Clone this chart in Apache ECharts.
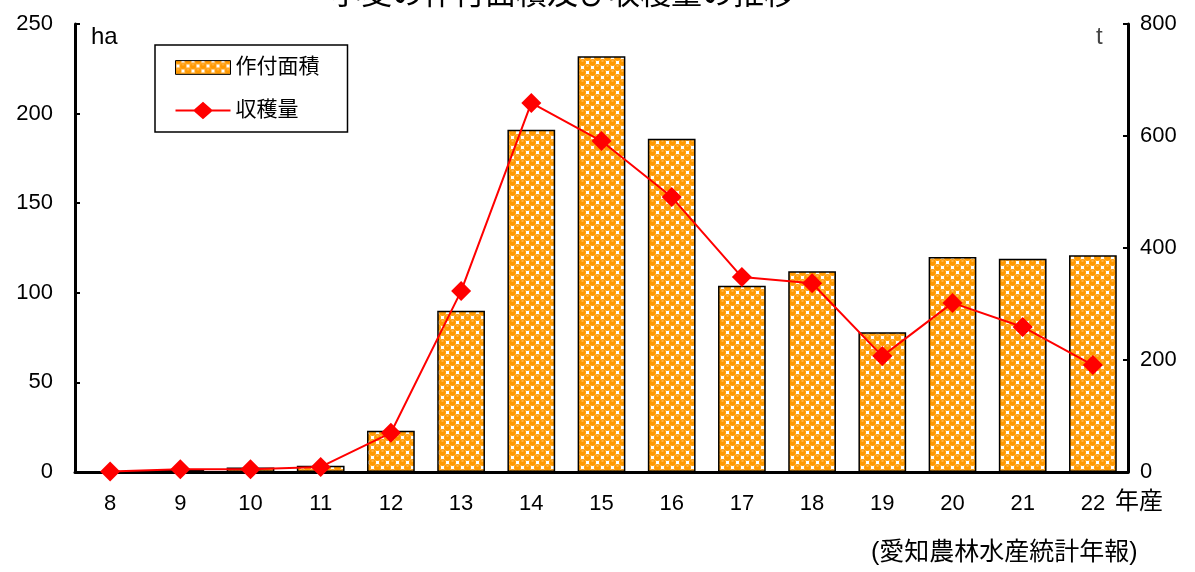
<!DOCTYPE html>
<html>
<head>
<meta charset="utf-8">
<script src="https://cdn.jsdelivr.net/npm/echarts@6/dist/echarts.min.js"></script>
<style>
  html, body { margin: 0; padding: 0; background: #fff; }
  #chart { width: 1195px; height: 572px; }
</style>
</head>
<body>
<div id="chart"></div>
<script>
// 年産 (平成) と作付面積・収穫量
const years = ['8', '9', '10', '11', '12', '13', '14', '15', '16', '17', '18', '19', '20', '21', '22'];
const areaHa = [0.4, 1.5, 2.5, 3.5, 23, 90, 191, 232, 186, 104, 112, 78, 120, 119, 121];
const harvestT = [1, 5, 5, 9, 70, 323, 659, 591, 491, 348, 337, 207, 302, 259, 191];
const leftTicks = { min: 0, max: 250, interval: 50 };
const rightTicks = { min: 0, max: 800, interval: 200 };

const FONT = '"Liberation Sans", Arial, "Noto Sans CJK JP", sans-serif';

// 橙色の水玉模様
function makePattern() {
  const s = 10;
  const c = document.createElement('canvas');
  c.width = s; c.height = s;
  const g = c.getContext('2d');
  g.fillStyle = '#ffffff';
  g.fillRect(0, 0, s, s);
  g.fillStyle = '#ff9900';
  const h = s / 2, q = s / 4;
  const centers = [];
  for (let i = -1; i <= 1; i++) {
    for (let j = -1; j <= 1; j++) {
      centers.push([q + i * s, q + j * s]);
      centers.push([q + h + i * s, q + h + j * s]);
    }
  }
  centers.forEach(([x, y]) => {
    g.beginPath();
    g.arc(x, y, 3.5, 0, Math.PI * 2);
    g.fill();
  });
  g.fillStyle = '#ffd08a';
  [[q - 1, q - 2], [q + h - 1, q + h - 2]].forEach(([x, y]) => {
    g.fillRect(x, y, 2, 1);
  });
  return c;
}
const pattern = { image: makePattern(), repeat: 'repeat' };

// 凡例アイコン
const barIcon = 'path://M0,2L56,2L56,16L0,16Z';
const lineIcon = 'path://M0,8L19,8L28,0L37,8L56,8L56,10L37,10L28,18L19,10L0,10Z';

const chart = echarts.init(document.getElementById('chart'));
chart.setOption({
  backgroundColor: '#ffffff',
  animation: false,
  textStyle: { fontFamily: FONT },
  title: {
    text: '小麦の作付面積及び収穫量の推移',
    left: 325,
    top: -25,
    textStyle: { fontSize: 31, fontWeight: 'normal', color: '#000', fontFamily: FONT }
  },
  legend: {
    left: 155,
    top: 45,
    orient: 'vertical',
    backgroundColor: '#fff',
    borderColor: '#000',
    borderWidth: 1.5,
    padding: [12, 28, 11, 20],
    itemGap: 22,
    itemWidth: 55,
    itemHeight: 18,
    textStyle: { fontSize: 21, color: '#000', fontFamily: FONT },
    data: [
      { name: '作付面積', icon: barIcon, itemStyle: { color: pattern, borderColor: '#000', borderWidth: 1 } },
      { name: '収穫量', icon: lineIcon, itemStyle: { color: '#ff0000', borderWidth: 0 } }
    ]
  },
  grid: { left: 75, right: 67, top: 24, bottom: 100, containLabel: false },
  xAxis: {
    type: 'category',
    data: years,
    axisLine: { lineStyle: { color: '#000', width: 3 } },
    axisTick: { show: false },
    axisLabel: { fontSize: 22, color: '#000', margin: 21, fontFamily: FONT }
  },
  yAxis: [
    {
      type: 'value',
      min: leftTicks.min, max: leftTicks.max, interval: leftTicks.interval,
      axisLine: { show: true, lineStyle: { color: '#000', width: 3 } },
      axisTick: { show: true, inside: true, length: 5, lineStyle: { color: '#000', width: 2 } },
      splitLine: { show: false },
      axisLabel: { fontSize: 22, color: '#000', margin: 22, fontFamily: FONT }
    },
    {
      type: 'value',
      min: rightTicks.min, max: rightTicks.max, interval: rightTicks.interval,
      position: 'right',
      axisLine: { show: true, lineStyle: { color: '#000', width: 3 } },
      axisTick: { show: true, inside: true, length: 5, lineStyle: { color: '#000', width: 2 } },
      splitLine: { show: false },
      axisLabel: { fontSize: 22, color: '#000', margin: 12, fontFamily: FONT }
    }
  ],
  series: [
    {
      name: '作付面積',
      type: 'bar',
      data: areaHa,
      yAxisIndex: 0,
      barWidth: '68%',
      itemStyle: { color: pattern, borderColor: '#000', borderWidth: 1.5 }
    },
    {
      name: '収穫量',
      type: 'line',
      data: harvestT,
      yAxisIndex: 1,
      symbol: 'diamond',
      symbolSize: 20,
      lineStyle: { color: '#ff0000', width: 2 },
      itemStyle: { color: '#ff0000' }
    }
  ],
  graphic: [
    { type: 'text', left: 91, top: 25, style: { text: 'ha', fontSize: 24, fill: '#000', fontFamily: FONT } },
    { type: 'text', left: 1096, top: 25, style: { text: 't', fontSize: 24, fill: '#444', fontFamily: FONT } },
    { type: 'text', left: 1115, top: 490, style: { text: '年産', fontSize: 24, fill: '#000', fontFamily: FONT } },
    { type: 'text', left: 871, top: 541, style: { text: '(愛知農林水産統計年報)', fontSize: 25, fill: '#000', fontFamily: FONT } }
  ]
});
</script>
</body>
</html>
